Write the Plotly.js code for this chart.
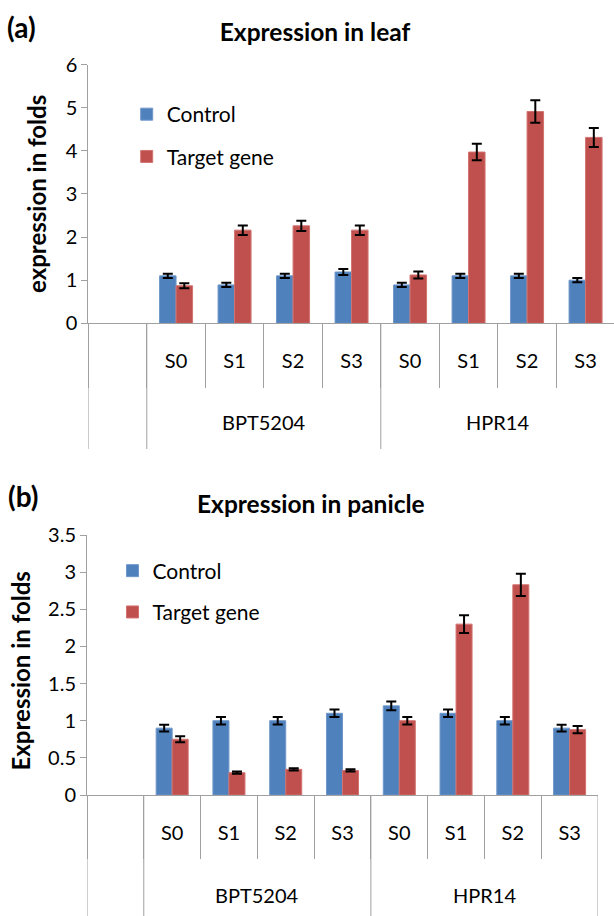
<!DOCTYPE html>
<html>
<head>
<meta charset="utf-8">
<script src="https://cdn.plot.ly/plotly-3.0.1.min.js"></script>
<style>html,body{margin:0;padding:0;background:#fff;}#chart{width:614px;height:916px;}</style>
</head>
<body>
<div id="chart"></div>
<script>
// ---- data ----
const genotypes = ["BPT5204", "HPR14"];
const stages = ["S0", "S1", "S2", "S3"];
const seriesNames = ["Control", "Target gene"];

const leafControl    = [1.10, 0.89, 1.10, 1.19, 0.89, 1.10, 1.10, 1.00];
const leafControlErr = [0.05, 0.05, 0.05, 0.07, 0.05, 0.05, 0.05, 0.05];
const leafTarget     = [0.87, 2.16, 2.26, 2.16, 1.12, 3.97, 4.91, 4.31];
const leafTargetErr  = [0.06, 0.11, 0.12, 0.11, 0.08, 0.19, 0.26, 0.22];

const panControl     = [0.90, 1.00, 1.00, 1.10, 1.20, 1.10, 1.00, 0.90];
const panControlErr  = [0.045, 0.05, 0.05, 0.05, 0.06, 0.05, 0.05, 0.045];
const panTarget      = [0.75, 0.30, 0.345, 0.33, 1.00, 2.30, 2.83, 0.88];
const panTargetErr   = [0.04, 0.015, 0.015, 0.015, 0.05, 0.12, 0.15, 0.05];

const titleLeaf = "Expression in leaf";
const titlePanicle = "Expression in panicle";
const yTitleLeaf = "expression in folds";
const yTitlePanicle = "Expression in folds";

// ---- build categories ----
const BLANK = "blank";
const xKeys = [];
const xText = [];
genotypes.forEach(g => stages.forEach(s => { xKeys.push(g + " " + s); xText.push(s); }));
const cats = [BLANK].concat(xKeys);
const catText = [""].concat(xText);

const BLUE = "#4F81BD", RED = "#C0504D";
const FONT = "Lato, 'Open Sans', sans-serif";
const GRID = "#a0a0a0";

function barTrace(name, y, err, color, edge, xa, ya, legend) {
  return {
    type: "bar", name: name, x: xKeys, y: y,
    xaxis: xa, yaxis: ya, legend: legend, legendgroup: legend + name,
    showlegend: true,
    marker: {color: color, line: {width: 1, color: edge}},
    error_y: {type: "data", array: err, visible: true, color: "#000", thickness: 2, width: 5}
  };
}

const data = [
  barTrace(seriesNames[0], leafControl, leafControlErr, BLUE, "#6f97c9", "x", "y", "legend"),
  barTrace(seriesNames[1], leafTarget, leafTargetErr, RED, "#d27370", "x", "y", "legend"),
  barTrace(seriesNames[0], panControl, panControlErr, BLUE, "#6f97c9", "x2", "y2", "legend2"),
  barTrace(seriesNames[1], panTarget, panTargetErr, RED, "#d27370", "x2", "y2", "legend2")
];

const W = 614, H = 916;
const px = v => v / W;           // horizontal pixel -> paper
const py = v => 1 - v / H;       // vertical pixel -> paper

function xAxis(domain, range, anchor, ticklen) {
  return {
    domain: domain, range: range, anchor: anchor, type: "category",
    categoryorder: "array", categoryarray: cats,
    tickmode: "array", tickvals: cats, ticktext: catText,
    tickson: "boundaries", ticks: "outside", ticklen: ticklen, tickcolor: GRID, tickwidth: 1,
    ticklabelstandoff: 20,
    showline: true, linecolor: GRID, linewidth: 1,
    showgrid: false, zeroline: false,
    tickfont: {family: FONT, size: 20, color: "#000"}
  };
}
function yAxis(domain, range, dtick, anchor) {
  return {
    domain: domain, range: range, dtick: dtick, anchor: anchor,
    ticks: "outside", ticklen: 6, tickcolor: GRID, tickwidth: 1,
    showline: true, linecolor: GRID, linewidth: 1,
    showgrid: false, zeroline: false,
    tickfont: {family: FONT, size: 20, color: "#000"}
  };
}

const bigSep = [-0.5, 0.5, 4.5, 8.5];
const shapes = [];
bigSep.forEach(v => {
  shapes.push({type: "line", xref: "x", yref: "paper", x0: v, x1: v, y0: py(323.3), y1: py(449), line: {color: GRID, width: 1}});
  shapes.push({type: "line", xref: "x2", yref: "paper", x0: v, x1: v, y0: py(795), y1: py(918), line: {color: GRID, width: 1}});
});

function groupCenter(g) {
  const idx = xKeys.map((k, i) => k.startsWith(g + " ") ? i + 1 : null).filter(v => v !== null);
  return (idx[0] + idx[idx.length - 1]) / 2;
}

const annotations = [];
genotypes.forEach(g => {
  annotations.push({text: g, xref: "x", yref: "paper", x: groupCenter(g), y: py(422), showarrow: false, xanchor: "center", yanchor: "middle", font: {family: FONT, size: 20, color: "#000"}});
  annotations.push({text: g, xref: "x2", yref: "paper", x: groupCenter(g), y: py(895), showarrow: false, xanchor: "center", yanchor: "middle", font: {family: FONT, size: 20, color: "#000"}});
});
annotations.push({text: "<b>(a)</b>", xref: "paper", yref: "paper", x: px(5), y: py(27), xanchor: "left", yanchor: "middle", showarrow: false, font: {family: FONT, size: 28, color: "#000"}});
annotations.push({text: "<b>(b)</b>", xref: "paper", yref: "paper", x: px(6), y: py(496), xanchor: "left", yanchor: "middle", showarrow: false, font: {family: FONT, size: 28, color: "#000"}});
annotations.push({text: "<b>" + titlePanicle + "</b>", xref: "paper", yref: "paper", x: px(311), y: py(503), xanchor: "center", yanchor: "middle", showarrow: false, font: {family: FONT, size: 24.5, color: "#000"}});
annotations.push({text: "<b>" + yTitleLeaf + "</b>", xref: "paper", yref: "paper", x: px(36), y: py(194), xanchor: "center", yanchor: "middle", textangle: -90, showarrow: false, font: {family: FONT, size: 24, color: "#000"}});
annotations.push({text: "<b>" + yTitlePanicle + "</b>", xref: "paper", yref: "paper", x: px(19.5), y: py(671), xanchor: "center", yanchor: "middle", textangle: -90, showarrow: false, font: {family: FONT, size: 24, color: "#000"}});

const legendBase = {
  bgcolor: "rgba(0,0,0,0)", borderwidth: 0, traceorder: "grouped",
  xanchor: "left", yanchor: "top", font: {family: FONT, size: 21, color: "#000"},
  itemclick: false, itemdoubleclick: false
};

const layout = {
  width: W, height: H,
  margin: {l: 0, r: 0, t: 0, b: 0},
  paper_bgcolor: "#fff", plot_bgcolor: "rgba(0,0,0,0)",
  font: {family: FONT, color: "#000"},
  title: {text: "<b>" + titleLeaf + "</b>", x: px(315), xanchor: "center", y: py(32), yanchor: "middle", font: {family: FONT, size: 24.5, color: "#000"}},
  barmode: "group", bargap: 0.436, bargroupgap: 0,
  xaxis: xAxis([px(88.3), 1], [-0.5, 8.486], "y", 64),
  yaxis: yAxis([py(323.3), py(64.5)], [0, 6], 1, "x"),
  xaxis2: xAxis([px(87), px(598)], [-0.5, 8.5], "y2", 63),
  yaxis2: yAxis([py(795), py(535)], [0, 3.5], 0.5, "x2"),
  legend: Object.assign({}, legendBase, {x: px(126.7), y: py(94), tracegroupgap: 12}),
  legend2: Object.assign({}, legendBase, {x: px(112.5), y: py(550.5), tracegroupgap: 11}),
  shapes: shapes,
  annotations: annotations,
  showlegend: true
};

Plotly.newPlot("chart", data, layout, {displayModeBar: false, staticPlot: true});
</script>
</body>
</html>
